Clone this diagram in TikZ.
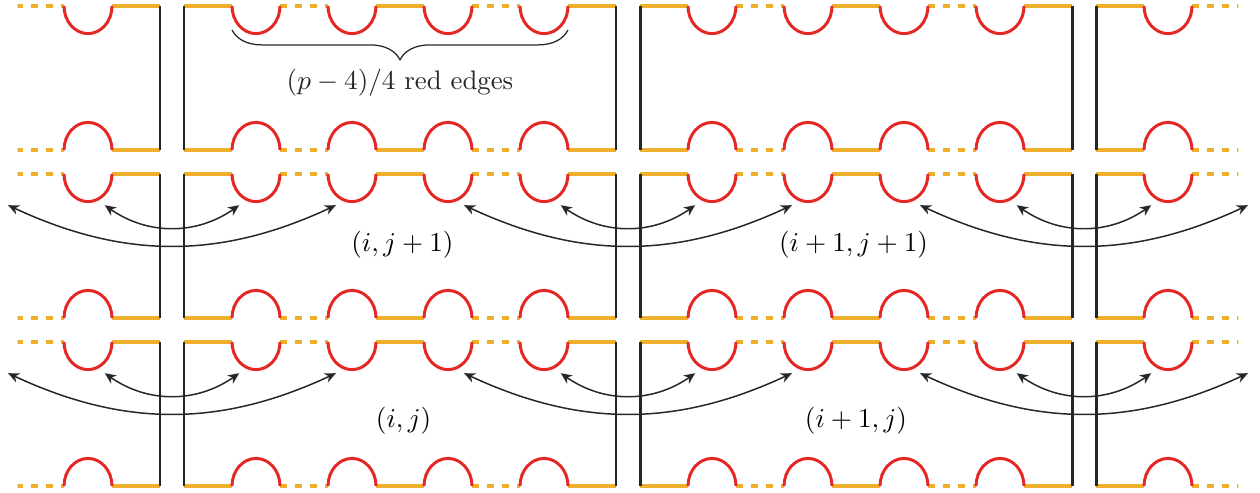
\documentclass[tikz,border=0pt]{standalone}
\usepackage{amssymb,amsmath}
\usepackage{tikz}
\usetikzlibrary{arrows.meta, positioning, decorations.pathreplacing}

\definecolor{edgered}{RGB}{228,40,38}
\definecolor{edgeyellow}{RGB}{238,176,44}

%% one side of a tile: x, y, 1 = notches down / -1 = notches up
\newcommand{\notchedge}[3]{%
  \draw[yedge] (#1,#2) -- (#1+2,#2);
  \draw[yedge, dashed] (#1+4,#2) -- (#1+6,#2);
  \draw[yedge] (#1+8,#2) -- (#1+10,#2);
  \draw[yedge, dashed] (#1+12,#2) -- (#1+14,#2);
  \draw[yedge] (#1+16,#2) -- (#1+18,#2);
  \foreach \k in {2,6,10,14}
    \draw[redge] (#1+\k,#2) arc[start angle=180, delta angle=#3*180,
                               x radius=1, y radius=1.15];
}

\begin{document}
\begin{tikzpicture}[
  x=0.34cm, y=0.34cm,
  yedge/.style={edgeyellow, line width=1.3pt},
  redge/.style={edgered, line width=1.2pt},
  wall/.style={black!85, line width=1.2pt},
  link/.style={{Stealth[length=4.5pt, width=4pt]}-{Stealth[length=4.5pt, width=4pt]},
               black!85, line width=0.6pt},
  brace/.style={decorate, decoration={brace, mirror, amplitude=12pt},
                black!85, line width=0.5pt},
  tag/.style={font=\fontsize{10.8}{13}\selectfont},
]
\useasboundingbox (-7.667,0.25) rectangle (44.833,-20.29);

%% Tiles
\begin{scope}
  \clip (-6.93,1) rectangle (43.93,-21);
  \foreach \r in {0,1,2}
    \foreach \c in {-1,0,1,2} {
      \pgfmathsetmacro\xl{19*\c}
      \pgfmathsetmacro\yt{-7*\r}
      \pgfmathsetmacro\yb{-7*\r-6}
      \notchedge{\xl}{\yt}{1}
      \notchedge{\xl}{\yb}{-1}
      \draw[wall] (\xl,\yt) -- (\xl,\yb);
      \draw[wall] (\xl+18,\yt) -- (\xl+18,\yb);
    }
\end{scope}

%% Brace over the red edges
\draw[brace] (2,-1) -- (16,-1)
  node[tag, midway, below=12pt] (count) {$(p-4)/4$ red edges};

%% Swaps across the gaps
\foreach \r in {1,2}
  \foreach \c in {0,1,2} {
    \pgfmathsetmacro\gx{19*\c-0.5}
    \pgfmathsetmacro\ay{-7*\r-1.3}
    \coordinate (sl\r\c) at (\gx-2.8,\ay);
    \coordinate (sr\r\c) at (\gx+2.8,\ay);
    \coordinate (ll\r\c) at (\gx-6.83,\ay);
    \coordinate (lr\r\c) at (\gx+6.83,\ay);
    \draw[link] (sl\r\c) to[bend right=35] (sr\r\c);
    \draw[link] (ll\r\c) to[bend right=25] (lr\r\c);
  }

%% Tile labels
\node[tag] (ij1)  at (9.1,-9.95)  {$(i,j+1)$};
\node[tag] (i1j1) at (27.9,-9.95) {$(i+1,j+1)$};
\node[tag] (ij)   at (9.15,-17.28) {$(i,j)$};
\node[tag] (i1j)  at (28,-17.28)  {$(i+1,j)$};

\end{tikzpicture}
\end{document}
